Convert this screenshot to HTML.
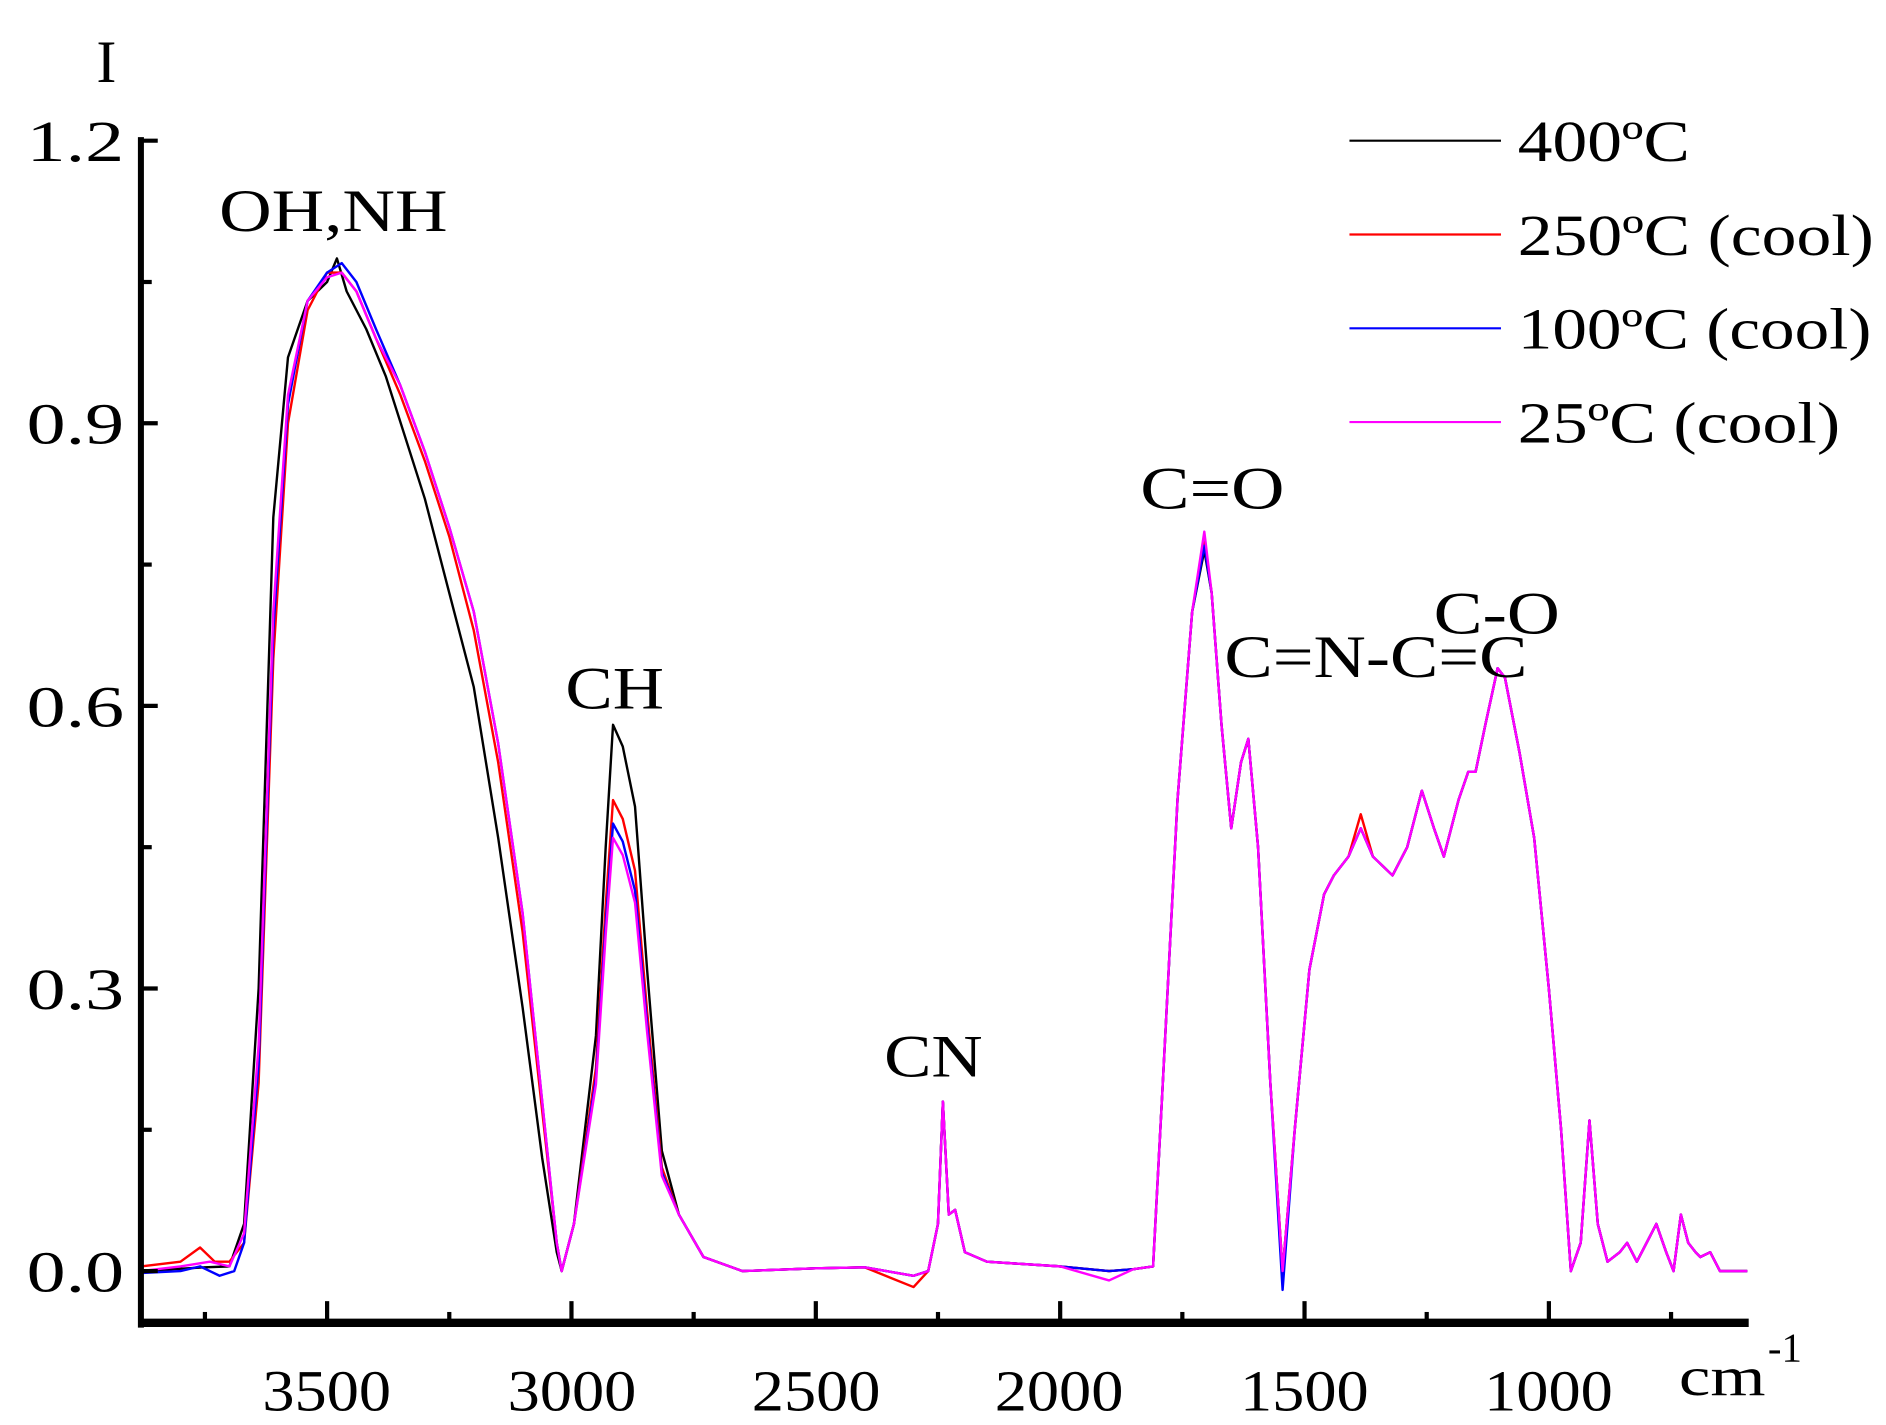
<!DOCTYPE html>
<html><head><meta charset="utf-8"><style>
html,body{margin:0;padding:0;background:#fff;}
svg{display:block;}
text{font-family:"Liberation Serif",serif;fill:#000;}
</style></head><body>
<svg id="s" width="1886" height="1425" viewBox="0 0 1568 1185" xmlns="http://www.w3.org/2000/svg">
<rect width="1568" height="1185" fill="#fff"/>
<g id="curves" fill="none" stroke-width="2" stroke-linejoin="round"></g>
<line x1="117" y1="114" x2="117" y2="1104" stroke="#000" stroke-width="5"/>
<line x1="115" y1="1100" x2="1454" y2="1100" stroke="#000" stroke-width="7"/>
<g id="ticks" stroke="#000" stroke-width="3.5"></g>
<g font-size="48">
<text x="22" y="134" textLength="81" lengthAdjust="spacingAndGlyphs">1.2</text>
<text x="22" y="369" textLength="81" lengthAdjust="spacingAndGlyphs">0.9</text>
<text x="22" y="604" textLength="81" lengthAdjust="spacingAndGlyphs">0.6</text>
<text x="22" y="839" textLength="81" lengthAdjust="spacingAndGlyphs">0.3</text>
<text x="22" y="1074" textLength="81" lengthAdjust="spacingAndGlyphs">0.0</text>
</g>
<g font-size="48">
<text x="218" y="1173" textLength="107" lengthAdjust="spacingAndGlyphs">3500</text>
<text x="422" y="1173" textLength="107" lengthAdjust="spacingAndGlyphs">3000</text>
<text x="625" y="1173" textLength="107" lengthAdjust="spacingAndGlyphs">2500</text>
<text x="827" y="1173" textLength="107" lengthAdjust="spacingAndGlyphs">2000</text>
<text x="1031" y="1173" textLength="107" lengthAdjust="spacingAndGlyphs">1500</text>
<text x="1234" y="1173" textLength="107" lengthAdjust="spacingAndGlyphs">1000</text>
</g>
<text x="1396" y="1160" font-size="46" textLength="72" lengthAdjust="spacingAndGlyphs">cm</text>
<text x="1470" y="1132" font-size="34">-1</text>
<text x="80" y="68" font-size="50">I</text>
<g font-size="50">
<text x="182" y="192" textLength="190" lengthAdjust="spacingAndGlyphs">OH,NH</text>
<text x="470" y="589" textLength="82" lengthAdjust="spacingAndGlyphs">CH</text>
<text x="735" y="895" textLength="82" lengthAdjust="spacingAndGlyphs">CN</text>
<text x="948" y="423" textLength="120" lengthAdjust="spacingAndGlyphs">C=O</text>
<text x="1018" y="563" textLength="252" lengthAdjust="spacingAndGlyphs">C=N-C=C</text>
<text x="1192" y="527" textLength="105" lengthAdjust="spacingAndGlyphs">C-O</text>
</g>
<g stroke-width="1.8">
<line x1="1122" y1="117" x2="1248" y2="117" stroke="#000"/>
<line x1="1122" y1="195" x2="1248" y2="195" stroke="#f00"/>
<line x1="1122" y1="273" x2="1248" y2="273" stroke="#00f"/>
<line x1="1122" y1="351" x2="1248" y2="351" stroke="#f0f"/>
</g>
<g font-size="48">
<text x="1262" y="134" textLength="143" lengthAdjust="spacingAndGlyphs">400ºC</text>
<text x="1262" y="212" textLength="296" lengthAdjust="spacingAndGlyphs">250ºC (cool)</text>
<text x="1262" y="290" textLength="294" lengthAdjust="spacingAndGlyphs">100ºC (cool)</text>
<text x="1262" y="368" textLength="268" lengthAdjust="spacingAndGlyphs">25ºC (cool)</text>
</g>
</svg>
<script>
function X(w){return 117+(3881-w)/500*203.2;}
function Y(i){return 1057-i/0.3*235;}
var t=document.getElementById('ticks'),h="";
for(var k=0;k<=8;k++){var yy=Y(k*0.15);var L=(k%2==0)?14:9;h+='<line x1="117" y1="'+yy+'" x2="'+(117+L)+'" y2="'+yy+'"/>';}
for(var w=3750;w>=750;w-=250){var xx=X(w);var L=(w%500==0)?18:9;h+='<line x1="'+xx+'" y1="1100" x2="'+xx+'" y2="'+(1100-L)+'"/>';}
t.innerHTML=h;
var tail=[[2650,0],[2500,0.003],[2400,0.004],[2300,-0.005],[2270,0],[2250,0.05],[2240,0.18],[2228,0.06],[2215,0.065],[2195,0.02],[2150,0.01],[2000,0.005],[1900,0.0],[1850,0.002],[1810,0.005],[1790,0.2],[1760,0.5],[1730,0.7],[1705,0.78],[1690,0.72],[1670,0.58],[1650,0.47],[1630,0.54],[1615,0.565],[1595,0.45],[1570,0.2],[1545,0.0],[1520,0.15],[1490,0.32],[1460,0.4],[1440,0.42],[1410,0.44],[1385,0.47],[1360,0.44],[1320,0.42],[1290,0.45],[1260,0.51],[1235,0.47],[1215,0.44],[1185,0.5],[1165,0.53],[1150,0.53],[1130,0.58],[1105,0.64],[1090,0.63],[1060,0.55],[1030,0.46],[1000,0.3],[975,0.15],[955,0.0],[935,0.03],[917,0.16],[900,0.05],[880,0.01],[855,0.02],[840,0.03],[820,0.01],[800,0.03],[780,0.05],[760,0.02],[745,0.0],[730,0.06],[715,0.03],[700,0.02],[690,0.015],[670,0.02],[650,0.0],[594,0]];
function build(head,ch,co,extra){
 var p=head.slice();
 p.push([2950,0.25*ch/0.58],[2930,0.45*ch/0.58],[2915,ch],[2895,ch*0.96],[2870,ch*0.85],[2845,ch*0.55],[2815,ch*0.22],[2780,0.06],[2730,0.015]);
 tail.forEach(function(q){var v=q[1];if(q[0]==1705)v=co;p.push([q[0],v+(extra(q[0])||0)]);});
 return p;
}
var black=[[3881,0],[3750,0.004],[3700,0.005],[3670,0.05],[3640,0.3],[3610,0.8],[3580,0.97],[3540,1.03],[3500,1.05],[3480,1.075],[3460,1.04],[3420,1.0],[3380,0.95],[3300,0.82],[3250,0.72],[3200,0.62],[3150,0.46],[3100,0.28],[3060,0.12],[3030,0.02],[3020,0.0],[2995,0.05]];
var red=[[3881,0.005],[3800,0.01],[3760,0.025],[3730,0.01],[3700,0.01],[3670,0.03],[3640,0.2],[3610,0.65],[3580,0.9],[3540,1.02],[3500,1.06],[3470,1.06],[3440,1.04],[3400,0.99],[3350,0.93],[3300,0.86],[3250,0.78],[3200,0.68],[3150,0.54],[3100,0.36],[3060,0.17],[3030,0.03],[3020,0.0],[2995,0.05]];
var blue=[[3881,-0.002],[3800,0.0],[3760,0.005],[3720,-0.005],[3690,0.0],[3670,0.03],[3640,0.22],[3610,0.68],[3580,0.92],[3540,1.03],[3500,1.06],[3470,1.07],[3440,1.05],[3400,1.0],[3350,0.94],[3300,0.87],[3250,0.79],[3200,0.7],[3150,0.56],[3100,0.38],[3060,0.18],[3030,0.03],[3020,0.0],[2995,0.05]];
var pink=[[3881,0.0],[3800,0.005],[3740,0.01],[3700,0.005],[3670,0.04],[3640,0.24],[3610,0.7],[3580,0.93],[3540,1.03],[3500,1.055],[3470,1.06],[3440,1.04],[3400,0.99],[3350,0.94],[3300,0.87],[3250,0.79],[3200,0.7],[3150,0.56],[3100,0.38],[3060,0.18],[3030,0.03],[3020,0.0],[2995,0.05]];
var z=function(){return 0;};
var series=[
 [build(black,0.58,0.765,z),"#000"],
 [build(red,0.5,0.775,function(w){return (w<2400&&w>2270)?-0.012:(w==1385?0.015:0);}),"#f00"],
 [build(blue,0.475,0.77,function(w){return w==1545?-0.02:0;}),"#00f"],
 [build(pink,0.46,0.785,function(w){return (w<2000&&w>1850)?-0.01:0;}),"#f0f"]
];
var g=document.getElementById('curves'),s="";
series.forEach(function(se){var d="";se[0].forEach(function(q,i){d+=(i?"L":"M")+X(q[0]).toFixed(1)+" "+Y(q[1]).toFixed(1);});s+='<path d="'+d+'" stroke="'+se[1]+'"/>';});
g.innerHTML=s;
</script>
</body></html>
